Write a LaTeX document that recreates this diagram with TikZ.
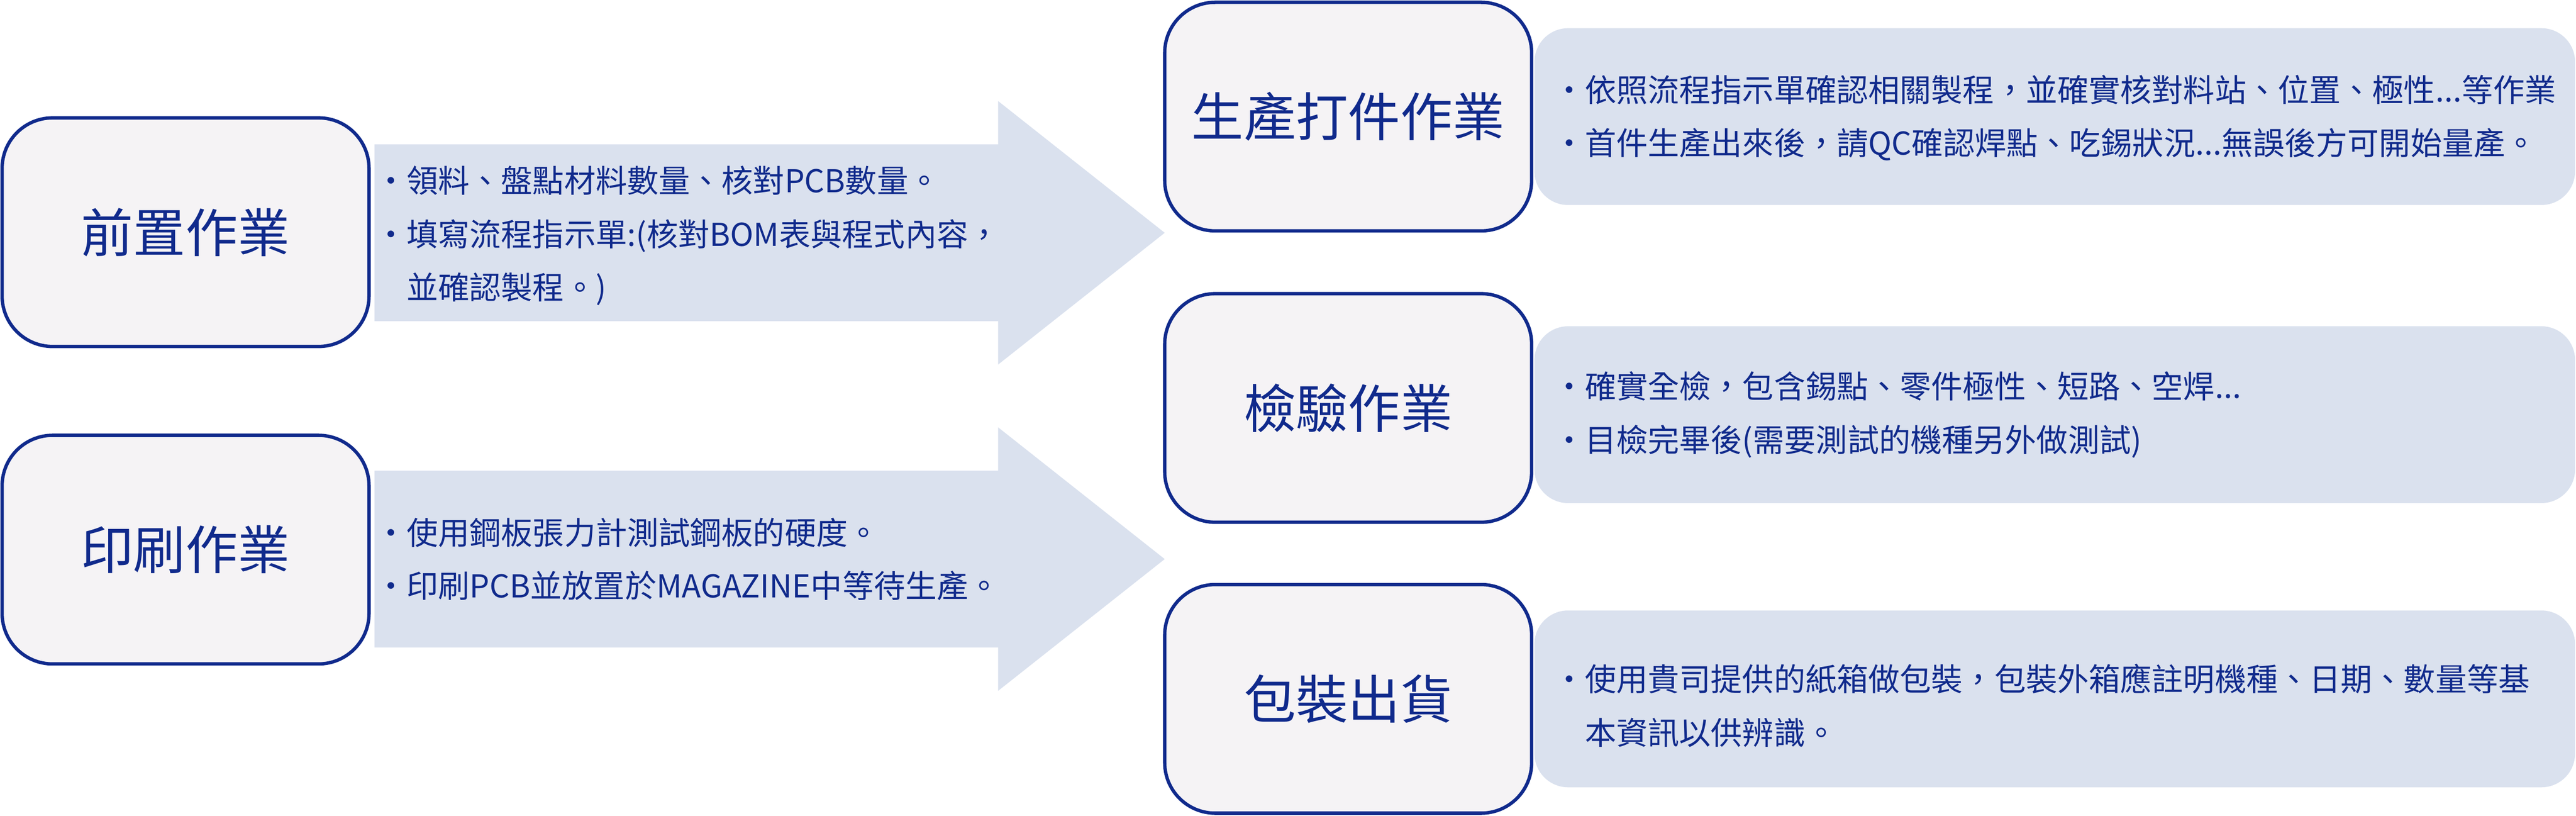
\documentclass[tikz,border=0pt]{standalone}
\usepackage{fontspec}
\setmainfont{Noto Sans CJK TC}
\usetikzlibrary{calc,positioning}
\definecolor{navy}{RGB}{16,42,140}
\definecolor{boxgray}{RGB}{245,243,245}
\definecolor{flowblue}{RGB}{218,225,238}
\tikzset{
  stage/.style={draw=navy, fill=boxgray, line width=0.08cm, rounded corners=1.2cm,
    minimum width=8.72cm, minimum height=5.43cm, text=navy,
    font=\fontsize{35.3}{42}\selectfont},
  descbox/.style={fill=flowblue, rounded corners=0.8cm,
    minimum width=24.73cm, minimum height=4.2cm},
  itemtext/.style={text=navy, align=left, inner sep=0pt, anchor=west,
    font=\fontsize{21.3}{36}\selectfont}
}
% Block arrow from a stage box to a tip.
\newcommand{\flowarrow}[2]{%
  \fill[flowblue] ($(#1.east |- #2)+(0.09,-2.1)$) -- ($(#2)+(-3.96,-2.1)$)
    -- ($(#2)+(-3.96,-3.13)$) -- (#2) -- ($(#2)+(-3.96,3.13)$)
    -- ($(#2)+(-3.96,2.1)$) -- ($(#1.east |- #2)+(0.09,2.1)$) -- cycle;}

\begin{document}
\begin{tikzpicture}[y=-1cm]
    \useasboundingbox (0,0) rectangle (61.22,19.38);

    % Stage boxes.
    \node[stage] (pre) at (4.41,5.515) {前置作業};
    \node[stage] (print) at (4.41,13.055) {印刷作業};
    \node[stage] (smt) at (32.04,2.77) {生產打件作業};
    \node[stage] (qc) at (32.04,9.69) {檢驗作業};
    \node[stage] (pack) at (32.04,16.6) {包裝出貨};

    % Draw arrows.
    \coordinate (tip1) at (27.68,5.53);
    \coordinate (tip2) at (27.68,13.28);
    \flowarrow{pre}{tip1}
    \flowarrow{print}{tip2}

    \node[itemtext] (t1) at ($(pre.east |- tip1)+(0.1,0.07)$)
      {・領料、盤點材料數量、核對PCB數量。\\
       ・填寫流程指示單:(核對BOM表與程式內容，\\
       \phantom{・}並確認製程。)};
    \node[itemtext] (t2) at ($(print.east |- tip2)+(0.1,0)$)
      {・使用鋼板張力計測試鋼板的硬度。\\
       ・印刷PCB並放置於MAGAZINE中等待生產。};

    % Description boxes.
    \node[descbox, right=0.02cm of smt] (d1) {};
    \node[descbox, right=0.02cm of qc, yshift=-0.16cm] (d2) {};
    \node[descbox, right=0.02cm of pack] (d3) {};

    \node[itemtext, right=0.45cm of d1.west, yshift=-0.03cm] (t3)
      {・依照流程指示單確認相關製程，並確實核對料站、位置、極性...等作業\\
       ・首件生產出來後，請QC確認焊點、吃錫狀況...無誤後方可開始量產。};
    \node[itemtext, right=0.45cm of d2.west] (t4)
      {・確實全檢，包含錫點、零件極性、短路、空焊...\\
       ・目檢完畢後(需要測試的機種另外做測試)};
    \node[itemtext, right=0.45cm of d3.west, yshift=-0.16cm] (t5)
      {・使用貴司提供的紙箱做包裝，包裝外箱應註明機種、日期、數量等基\\
       \phantom{・}本資訊以供辨識。};

\end{tikzpicture}
\end{document}
